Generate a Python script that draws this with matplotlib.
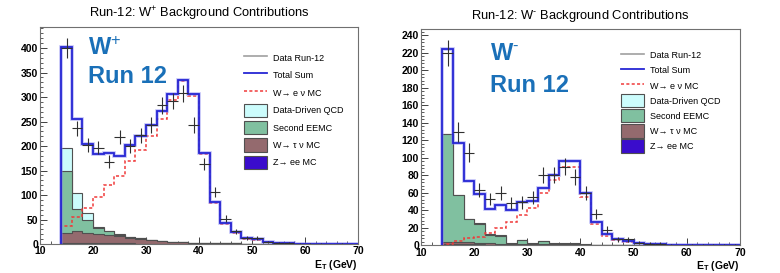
import numpy as np
import matplotlib.pyplot as plt
from matplotlib.lines import Line2D
from matplotlib.patches import Patch
from matplotlib.ticker import MultipleLocator

plt.rcParams['font.family'] = ['Liberation Sans', 'DejaVu Sans']
plt.rcParams['mathtext.fontset'] = 'custom'
plt.rcParams['mathtext.rm'] = 'Liberation Sans'
plt.rcParams['mathtext.bf'] = 'Liberation Sans:bold'
plt.rcParams['mathtext.it'] = 'Liberation Sans:italic'

# 2 GeV bins from 14 to 70
edges = np.arange(14, 72, 2)

# ---- W+ ----
wp_data = [400, 236, 203, 197, 168, 218, 200, 222, 243, 283, 292, 308, 243, 163,
           107, 52, 26, 12, 12, 5, 3, 2, 1, 1, 1, 0, 1, 0]
wp_total = [402, 256, 205, 183, 185, 180, 203, 220, 243, 272, 307, 335, 307, 186,
            85, 43, 25, 12, 10, 5, 3, 2, 1, 1, 0.5, 0.5, 0.3, 0.3]
wp_wenu = [36, 55, 73, 97, 121, 139, 170, 192, 221, 255, 294, 333, 303, 184,
           83, 41, 22, 11, 8, 4, 2.5, 1.5, 1, 0.8, 0.5, 0.4, 0.3, 0.3]
wp_zee = [2, 2, 2, 2, 1.5, 1.5, 1.5, 1, 1, 1, 1, 1, 1, 1, 1, 0.5, 0.5, 0.5, 0.5,
          0.3, 0.3, 0.3, 0.2, 0.2, 0.2, 0.1, 0.1, 0.1]
wp_wtau = [21, 24, 21, 18, 17.5, 15.5, 11.5, 10, 8, 5, 4, 3, 2, 2, 1, 1.5, 1, 0.5,
           0.5, 0.3, 0.2, 0.1, 0.1, 0.1, 0, 0.1, 0, 0]
wp_eemc = [127, 45, 27, 13, 7, 2, 1, 1, 0, 1, 0, 0, 0, 0, 0, 0, 0, 0, 0, 0, 0, 0,
           0, 0, 0, 0, 0, 0]
wp_qcd = [46, 33, 13, 1, 1, 1, 0, 0, 0, 0, 0, 0, 0, 0, 0, 0, 0, 0, 0, 0, 0, 0,
          0, 0, 0, 0, 0, 0]

# ---- W- ----
wm_data = [220, 129, 106, 63, 53, 60, 48, 49, 55, 80, 80, 90, 78, 60, 36, 18, 7,
           7, 3, 2, 2, 1, 0, 1, 1, 1, 1, 1]
wm_total = [224, 117, 74, 59, 41, 46, 40, 49, 51, 66, 80, 96, 96, 60, 27, 13, 7,
            5, 3, 2, 1.5, 1, 1, 0.8, 0.6, 0.5, 0.4, 0.3]
wm_wenu = [2, 5, 8, 10, 14, 20, 27, 35, 43, 60, 75, 90, 89, 55, 24, 11, 6, 4,
           2.5, 1.5, 1, 0.8, 0.6, 0.5, 0.4, 0.3, 0.3, 0.2]
wm_zee = [1.5, 1.5, 1.5, 1.5, 1, 1, 1, 1, 1, 1, 1, 1, 1, 0.8, 0.5, 0.5, 0.3, 0.3,
          0.2, 0.2, 0.1, 0.1, 0.1, 0.1, 0, 0, 0, 0]
wm_wtau = [2.5, 2.5, 2, 1.5, 1.5, 1, 1, 0.5, 0.5, 0.5, 0.3, 0.3, 0.3, 0.2, 0.1,
           0.1, 0, 0, 0, 0, 0, 0, 0, 0, 0, 0, 0, 0]
wm_eemc = [123, 53, 26.5, 22, 9.5, 9, 0, 4.5, 0, 3.5, 0, 0, 0, 0, 0, 0, 0, 0, 0,
           0, 0, 0, 0, 0, 0, 0, 0, 0]
wm_qcd = [0.5, 0.5, 0.5, 0.5, 0.5, 0.5, 0.5, 0.5, 1, 0.5, 1, 1.5, 1.5, 0.5, 0.3,
          0.2, 0, 0, 0, 0, 0, 0, 0, 0, 0, 0, 0, 0]

legend_labels = ['Data Run-12', 'Total Sum', 'W\u2192 e \u03bd MC',
                 'Data-Driven QCD', 'Second EEMC', 'W\u2192 \u03c4 \u03bd MC',
                 'Z\u2192 ee MC']

c_qcd = '#ccfcfc'
c_eemc = '#80c0a0'
c_wtau = '#946a6e'
c_zee = '#3a0ccc'
c_total = '#2626d4'
c_wenu = '#f03a3a'
c_edge = '#505050'
c_label = '#1a70b8'


def draw_panel(ax, data, total, wenu, zee, wtau, eemc, qcd, sign, ymax, ymaj, ymin,
               lab_x, lab_y, leg_pos, leg_space):
    zee = np.array(zee)
    tau_top = zee + np.array(wtau)
    eemc_top = tau_top + np.array(eemc)
    qcd_top = eemc_top + np.array(qcd)

    for top, col in [(qcd_top, c_qcd), (eemc_top, c_eemc), (tau_top, c_wtau), (zee, c_zee)]:
        ax.stairs(top, edges, fill=True, color=col, zorder=2)
        ax.stairs(top, edges, color=c_edge, lw=0.8, zorder=2)

    ax.stairs(wenu, edges, color=c_wenu, lw=1.1, ls=(0, (2, 1.5)), zorder=3)
    ax.stairs(total, edges, color='#8080f0', lw=2.6, alpha=0.5, zorder=4)
    ax.stairs(total, edges, color=c_total, lw=1.3, zorder=4)

    d = np.array(data, dtype=float)
    cen = (edges[:-1] + edges[1:]) / 2
    m = d > 0
    ax.errorbar(cen[m], d[m], xerr=1, yerr=np.sqrt(d[m]), fmt='none',
                ecolor='#303030', elinewidth=0.8, capsize=0, zorder=5)

    ax.set_xlim(10, 70)
    ax.set_ylim(0, ymax)
    ax.xaxis.set_major_locator(MultipleLocator(10))
    ax.xaxis.set_minor_locator(MultipleLocator(2))
    ax.yaxis.set_major_locator(MultipleLocator(ymaj))
    ax.yaxis.set_minor_locator(MultipleLocator(ymin))
    ax.tick_params(which='both', direction='in', top=False, right=False,
                   labelsize=7.5, pad=1.5, color='#404040')
    ax.tick_params(which='major', length=5, width=0.7)
    ax.tick_params(which='minor', length=2.5, width=0.6)
    for lab in ax.get_xticklabels() + ax.get_yticklabels():
        lab.set_fontweight('bold')
    for sp in ax.spines.values():
        sp.set_color('#707070')
        sp.set_linewidth(0.8)

    ax.set_title('Run-12: W$^{\\text{' + sign + '}}$ Background Contributions',
                 fontsize=9.3, pad=7)
    ax.set_xlabel(r'E$_{\bf T}$ (GeV)', fontsize=7.5, fontweight='bold',
                  loc='right', labelpad=1)

    ax.text(lab_x, lab_y[0], 'W$^{\\bf \\text{' + sign + '}}$',
            transform=ax.transAxes, fontsize=17, fontweight='bold',
            color=c_label, va='baseline', ha='left')
    ax.text(lab_x, lab_y[1], 'Run 12',
            transform=ax.transAxes, fontsize=17, fontweight='bold',
            color=c_label, va='baseline', ha='left')

    handles = [
        Line2D([], [], color='#a0a0a0', lw=1.2),
        Line2D([], [], color=c_total, lw=1.3),
        Line2D([], [], color=c_wenu, lw=1.1, ls=(0, (2, 1.5))),
        Patch(facecolor=c_qcd, edgecolor=c_edge, lw=0.8),
        Patch(facecolor=c_eemc, edgecolor=c_edge, lw=0.8),
        Patch(facecolor=c_wtau, edgecolor=c_edge, lw=0.8),
        Patch(facecolor=c_zee, edgecolor=c_edge, lw=0.8),
    ]
    ax.legend(handles, legend_labels, loc='upper left', bbox_to_anchor=leg_pos,
              frameon=False, fontsize=6.5, handlelength=2.6, handleheight=1.9,
              handletextpad=0.6, labelspacing=leg_space, borderaxespad=0)


fig = plt.figure(figsize=(7.8, 2.73), dpi=100)
ax1 = fig.add_axes([0.0513, 0.106, 0.4077, 0.795])
ax2 = fig.add_axes([0.5397, 0.101, 0.409, 0.793])

draw_panel(ax1, wp_data, wp_total, wp_wenu, wp_zee, wp_wtau, wp_eemc, wp_qcd,
           '+', 443, 50, 10, 0.151, (0.871, 0.742), (0.63, 0.905), 0.45)
draw_panel(ax2, wm_data, wm_total, wm_wenu, wm_zee, wm_wtau, wm_eemc, wm_qcd,
           '-', 247, 20, 4, 0.216, (0.857, 0.71), (0.615, 0.925), 0.19)

fig.savefig('out.png', dpi=100)
